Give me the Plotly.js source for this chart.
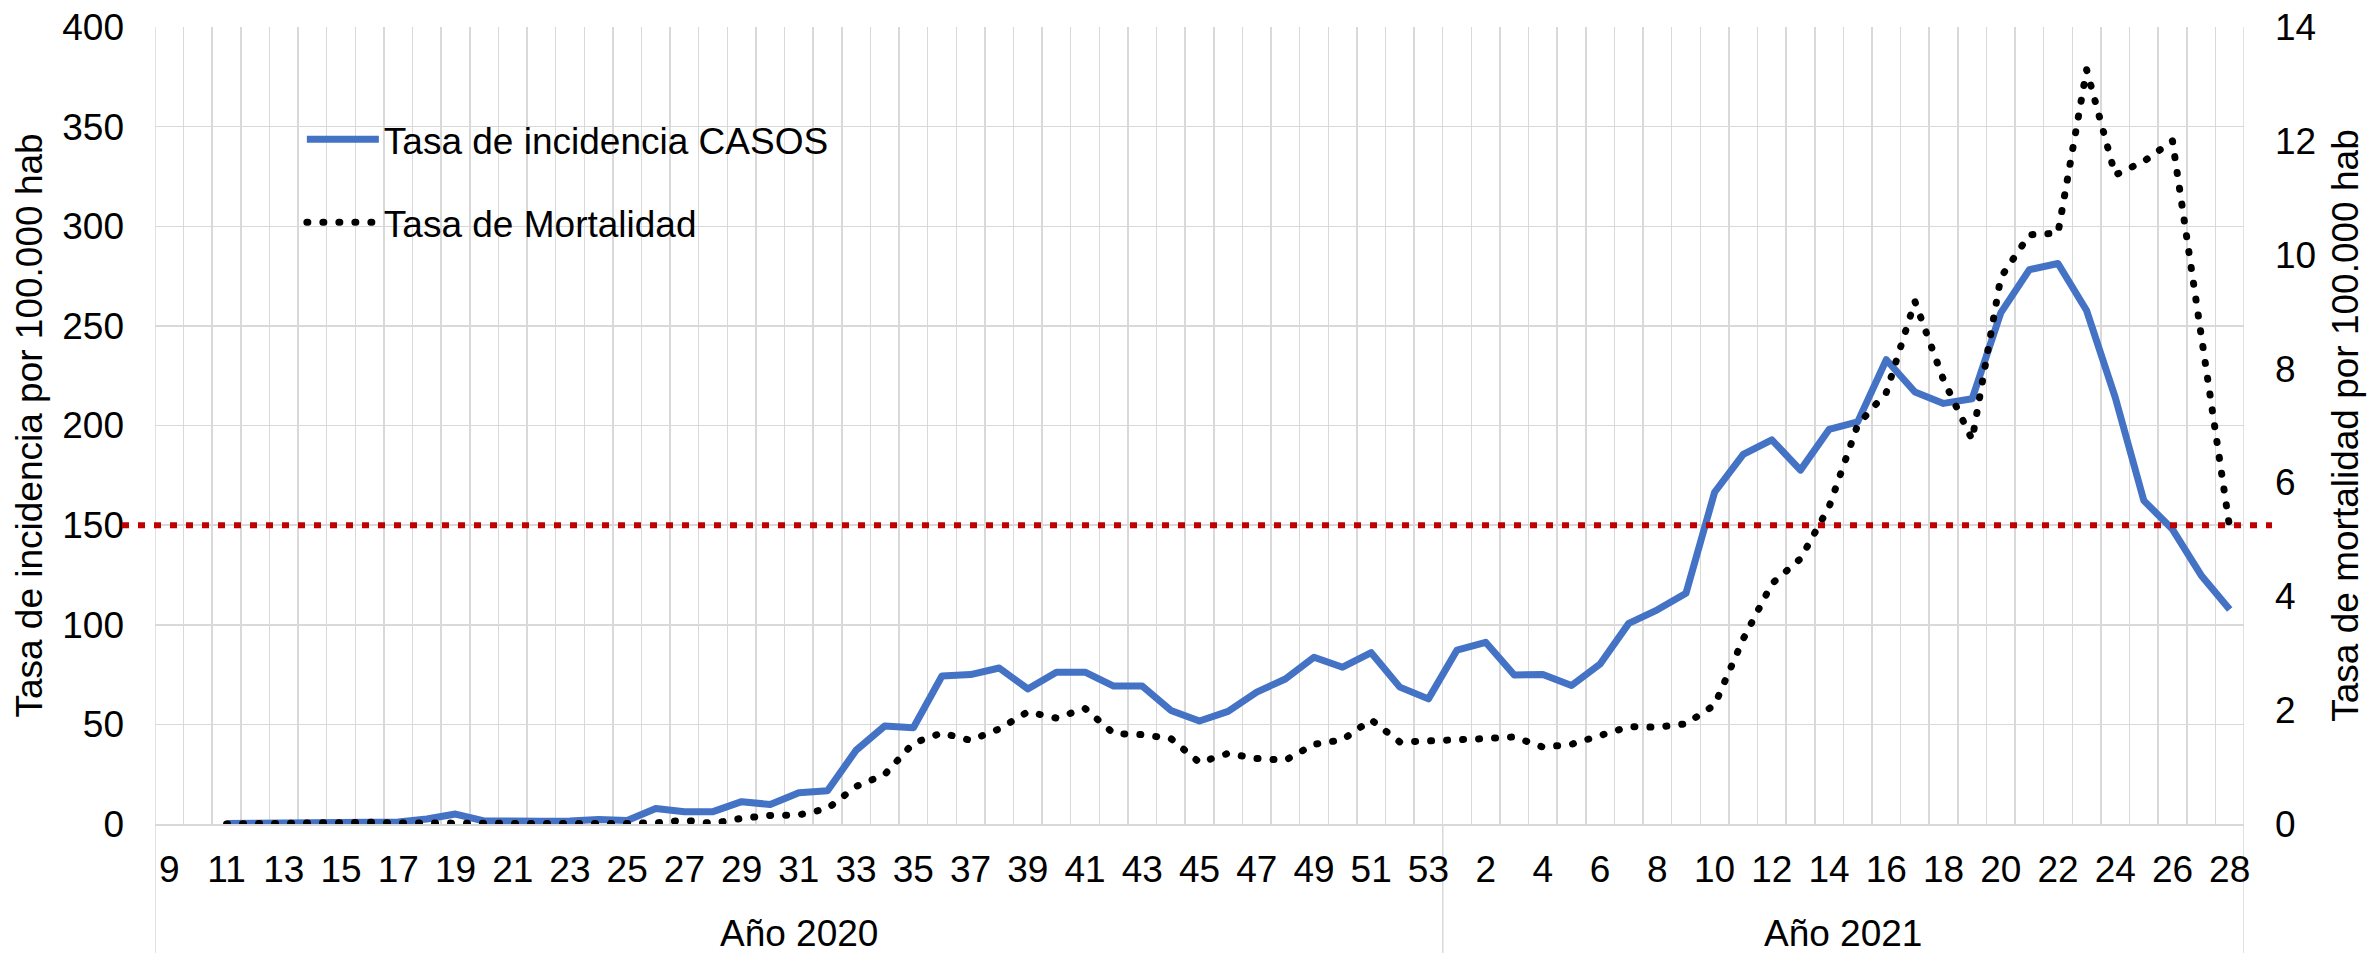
<!DOCTYPE html>
<html>
<head>
<meta charset="utf-8">
<script src="https://cdn.plot.ly/plotly-3.0.1.min.js"></script>
<style>
  html, body { margin: 0; padding: 0; background: #ffffff; }
  #chart { width: 2369px; height: 953px; }
</style>
</head>
<body>
<div id="chart"></div>
<script>
// ---------------- DATA ----------------
const yearLabels = ["Año 2020", "Año 2021"];
const weeks2020 = [9, 10, 11, 12, 13, 14, 15, 16, 17, 18, 19, 20, 21, 22, 23, 24, 25, 26, 27, 28,
                   29, 30, 31, 32, 33, 34, 35, 36, 37, 38, 39, 40, 41, 42, 43, 44, 45, 46, 47, 48,
                   49, 50, 51, 52, 53];
const weeks2021 = [1, 2, 3, 4, 5, 6, 7, 8, 9, 10, 11, 12, 13, 14, 15, 16, 17, 18, 19, 20,
                   21, 22, 23, 24, 25, 26, 27, 28];

// Tasa de incidencia CASOS (por 100.000 hab) – left axis
const incidencia2020 = [null, null, 0.3, 0.5, 0.8, 0.9, 1.0, 1.2, 1.0, 2.5,
                        5.0, 1.5, 1.2, 1.4, 1.5, 2.3, 1.8, 7.8, 6.2, 6.2,
                        11.2, 9.8, 15.7, 16.7, 37.0, 49.2, 48.3, 74.3, 75.0, 78.3,
                        67.8, 76.2, 76.2, 69.2, 69.2, 57.0, 51.7, 56.5, 66.2, 72.8,
                        83.7, 78.7, 86.0, 68.7, 62.8];
const incidencia2021 = [87.3, 91.2, 74.8, 75.0, 69.5, 80.3, 100.7, 107.5, 115.8, 166.5,
                        185.5, 192.8, 177.6, 198.0, 201.8, 233.0, 216.8, 211.1, 213.4, 256.5,
                        278.2, 281.3, 257.7, 214.1, 162.3, 147.9, 124.9, 107.7];

// Tasa de Mortalidad (por 100.000 hab) – right axis
const mortalidad2020 = [null, null, 0.0, 0.01, 0.01, 0.01, 0.01, 0.03, 0.02, 0.01,
                        0.02, 0.01, 0.01, 0.01, 0.0, 0.01, 0.01, 0.02, 0.065, 0.01,
                        0.10, 0.15, 0.16, 0.27, 0.66, 0.87, 1.42, 1.60, 1.47, 1.67,
                        1.97, 1.86, 2.03, 1.59, 1.57, 1.50, 1.08, 1.24, 1.15, 1.12,
                        1.40, 1.48, 1.83, 1.44, 1.45];
const mortalidad2021 = [1.49, 1.50, 1.53, 1.35, 1.40, 1.56, 1.71, 1.70, 1.76, 2.09,
                        3.25, 4.22, 4.66, 5.57, 7.01, 7.58, 9.18, 7.80, 6.75, 9.60,
                        10.35, 10.38, 13.25, 11.40, 11.64, 12.00, 8.60, 5.20];

const umbralIncidencia = 150;   // reference threshold (red dotted line)

const seriesNames = ["Tasa de incidencia CASOS", "Tasa de Mortalidad"];
const yTitleLeft = "Tasa de incidencia por 100.000 hab";
const yTitleRight = "Tasa de mortalidad por 100.000 hab";

// ---------------- BUILD ----------------
const cats = weeks2020.map(w => "2020-" + w).concat(weeks2021.map(w => "2021-" + w));
const weekLabels = weeks2020.concat(weeks2021).map(String);
const tickText = weekLabels.map((t, i) => (i % 2 === 0 ? t : ""));
const incidencia = incidencia2020.concat(incidencia2021);
const mortalidad = mortalidad2020.concat(mortalidad2021);

const nCats = cats.length;
const n2020 = weeks2020.length;

const FONT = '"Liberation Sans", Arial, sans-serif';
const GRID = '#D9D9D9';

const traces = [
  {
    x: cats, y: incidencia, type: 'scatter', mode: 'lines',
    name: seriesNames[0], legendgroup: 'a',
    line: { color: '#4472C4', width: 7 },
    yaxis: 'y', connectgaps: false
  },
  {
    x: cats, y: mortalidad, type: 'scatter', mode: 'lines',
    name: seriesNames[1], legendgroup: 'b',
    line: { color: '#000000', width: 7, dash: '1px,15px' },
    yaxis: 'y2', connectgaps: false
  }
];

const plotH = 797;
const layout = {
  width: 2369, height: 953,
  margin: { l: 155, r: 125, t: 27, b: 129 },
  paper_bgcolor: '#ffffff', plot_bgcolor: '#ffffff',
  font: { family: FONT, size: 37, color: '#000000' },
  showlegend: true,
  legend: {
    x: 0.0703, y: 0.8975, xanchor: 'left', yanchor: 'top',
    bgcolor: 'rgba(0,0,0,0)', borderwidth: 0,
    font: { family: FONT, size: 37, color: '#000000' },
    traceorder: 'grouped', tracegroupgap: 32, itemwidth: 72
  },
  xaxis: {
    type: 'category',
    categoryorder: 'array', categoryarray: cats,
    range: [-0.5, nCats - 0.5],
    tickmode: 'array', tickvals: cats, ticktext: tickText,
    tickson: 'boundaries', ticks: '',
    showgrid: true, gridcolor: GRID, gridwidth: 1.5,
    showline: true, linecolor: GRID, linewidth: 1.5,
    tickfont: { family: FONT, size: 37, color: '#000000' },
    tickangle: 0,
    ticklabelstandoff: 12,
    fixedrange: true
  },
  yaxis: {
    range: [0, 400], tickmode: 'linear', tick0: 0, dtick: 50,
    showgrid: true, gridcolor: GRID, gridwidth: 1.5,
    zeroline: false, showline: false, ticks: '',
    tickfont: { family: FONT, size: 37, color: '#000000' },
    ticklabelstandoff: 30,
    title: { text: yTitleLeft, font: { family: FONT, size: 37, color: '#000000' }, standoff: 8 }
  },
  yaxis2: {
    range: [0, 14], tickmode: 'linear', tick0: 0, dtick: 2,
    overlaying: 'y', side: 'right',
    showgrid: false, zeroline: false, showline: false, ticks: '',
    tickfont: { family: FONT, size: 37, color: '#000000' },
    ticklabelstandoff: 30,
    title: { text: yTitleRight, font: { family: FONT, size: 37, color: '#000000' }, standoff: 16 }
  },
  shapes: [
    // legend white box (covers gridlines)
    { type: 'rect', xref: 'paper', yref: 'paper', x0: 0.0517, x1: 0.3408, y0: 0.6989, y1: 0.9122,
      fillcolor: '#ffffff', line: { width: 0 }, layer: 'between' },
    // category group dividers extending below axis
    { type: 'line', xref: 'x', yref: 'paper', x0: -0.5, x1: -0.5, y0: 1, y1: -129 / plotH,
      line: { color: GRID, width: 1.5 } , layer: 'below'},
    { type: 'line', xref: 'x', yref: 'paper', x0: n2020 - 0.5, x1: n2020 - 0.5, y0: 0, y1: -129 / plotH,
      line: { color: GRID, width: 1.5 }, layer: 'below' },
    { type: 'line', xref: 'x', yref: 'paper', x0: nCats - 0.5, x1: nCats - 0.5, y0: 1, y1: -129 / plotH,
      line: { color: GRID, width: 1.5 }, layer: 'below' },
    // threshold red dotted line
    { type: 'line', xref: 'paper', yref: 'y', x0: -0.0158, x1: 1.0134,
      y0: umbralIncidencia, y1: umbralIncidencia,
      line: { color: '#C00000', width: 6, dash: '7px,9px' }, layer: 'above' }
  ],
  annotations: [
    { xref: 'x', yref: 'paper', x: (n2020 - 1) / 2, y: -109 / plotH, yanchor: 'middle',
      text: yearLabels[0], showarrow: false, font: { family: FONT, size: 37, color: '#000000' } },
    { xref: 'x', yref: 'paper', x: n2020 + (weeks2021.length - 1) / 2, y: -109 / plotH, yanchor: 'middle',
      text: yearLabels[1], showarrow: false, font: { family: FONT, size: 37, color: '#000000' } }
  ]
};

Plotly.newPlot('chart', traces, layout, { staticPlot: true, displayModeBar: false }).then(gd => {
  const paths = gd.querySelectorAll('.scatterlayer path.js-line, .legend path.js-line');
  paths.forEach(p => {
    p.style.strokeLinejoin = 'round';
    const da = p.style.strokeDasharray;
    if (da && da !== 'none' && da !== '') {
      p.style.strokeLinecap = 'round';
    }
  });
});
</script>
</body>
</html>
